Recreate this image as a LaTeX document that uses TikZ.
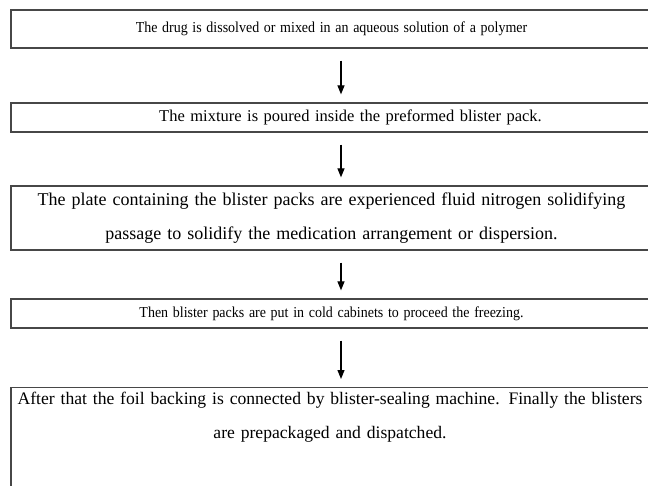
\documentclass[tikz,border=0pt]{standalone}
\usepackage{fontspec}
\usepackage{graphicx}
\setmainfont{Liberation Serif}
\usetikzlibrary{arrows.meta}
\newcommand{\narrowtext}[1]{\scalebox{0.92}[1]{#1}}
\begin{document}
\begin{tikzpicture}[x=1pt,y=-1pt,
  box/.style={draw=black!72, line width=1.3pt, inner sep=0pt, text width=641pt,
    align=center},
  txt/.style={inner sep=0pt, text width=641pt, align=center},
  small/.style={font=\fontsize{15.2}{34}\selectfont},
  mid/.style={font=\fontsize{16.5}{34}\selectfont},
  big/.style={font=\fontsize{18}{34}\selectfont},
  last/.style={font=\fontsize{17.6}{34}\selectfont},
  flow/.style={draw=black, line width=1.2pt, -{Triangle[length=9pt,width=7pt]}}]
\useasboundingbox (0,0) rectangle (648,486);
\node[box, small, minimum height=38pt] (b1) at (331.5,29) {\narrowtext{The drug is dissolved or mixed in an aqueous solution of a polymer}};
\node[box, mid, minimum height=29pt] (b2) at (331.5,117.5) {\hspace*{38pt}The mixture is poured inside the preformed blister pack.};
\node[box, big, minimum height=64pt] (b3) at (331.5,218) {The plate containing the blister packs are experienced fluid nitrogen solidifying\\passage to solidify the medication arrangement or dispersion.};
\node[box, small, minimum height=29pt] (b4) at (331.5,313.5) {\narrowtext{Then blister packs are put in cold cabinets to proceed the freezing.}};
\node[box, minimum height=140pt, anchor=north] (b5) at (331.5,387) {};
\node[txt, last] (t5) at (330,417) {After that the foil backing is connected by blister-sealing machine. Finally the blisters\\are prepackaged and dispatched.};
\draw[flow] ([xshift=9.5pt,yshift=-12pt]b1.south) -- ([xshift=9.5pt,yshift=8pt]b2.north);
\draw[flow] ([xshift=9.5pt,yshift=-12pt]b2.south) -- ([xshift=9.5pt,yshift=8pt]b3.north);
\draw[flow] ([xshift=9.5pt,yshift=-12pt]b3.south) -- ([xshift=9.5pt,yshift=8pt]b4.north);
\draw[flow] ([xshift=9.5pt,yshift=-12pt]b4.south) -- ([xshift=9.5pt,yshift=8pt]b5.north);
\end{tikzpicture}
\end{document}
